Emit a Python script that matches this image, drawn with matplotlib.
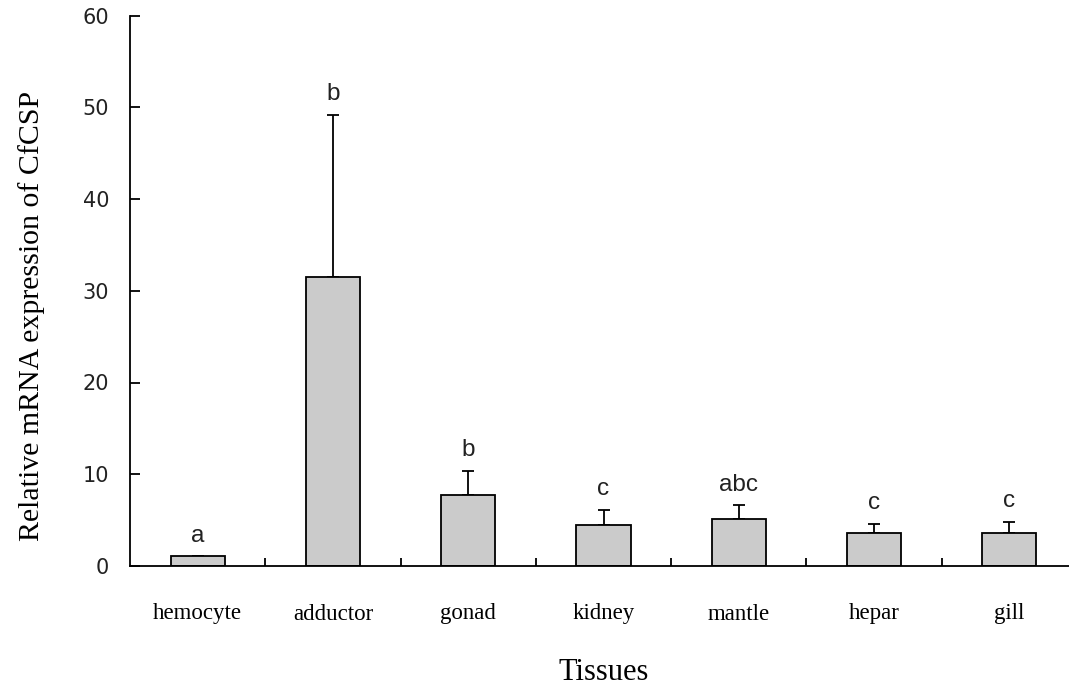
import numpy as np
import matplotlib.pyplot as plt

tissues = ["hemocyte", "adductor", "gonad", "kidney", "mantle", "hepar", "gill"]
expr = [1.05, 31.5, 7.7, 4.45, 5.15, 3.55, 3.55]
err = [0.0, 17.7, 2.7, 1.7, 1.45, 1.07, 1.3]
letters = ["a", "b", "b", "c", "abc", "c", "c"]

fig = plt.figure(figsize=(10.69, 6.88), dpi=100)
ax = fig.add_axes([130/1069, 122/688, 947/1069, 550.5/688])

x = np.arange(len(tissues))
ax.bar(x, expr, width=0.4, color="#cbcbcb", edgecolor="black", linewidth=1.3,
       zorder=2)
ax.errorbar(x, expr, yerr=[np.zeros(len(err)), err], fmt="none", ecolor="black",
            elinewidth=1.3, capsize=4, capthick=1.3, zorder=1)

for xi, top, lab in zip(x, np.array(expr) + np.array(err), letters):
    ax.annotate(lab, (xi, top), xytext=(0, 7), textcoords="offset points",
                ha="center", va="bottom", fontsize=17.5,
                family="Liberation Sans", color="#222222")

ax.set_xlim(-0.5, 6.5)
ax.set_ylim(0, 60)
ax.set_yticks(np.arange(0, 61, 10))
ax.spines["top"].set_visible(False)
ax.spines["right"].set_visible(False)
ax.spines["left"].set_linewidth(1.3)
ax.spines["bottom"].set_linewidth(1.3)

ax.set_xticks(x)
ax.set_xticklabels(tissues, family="Liberation Serif", fontsize=16.5)
ax.tick_params(axis="x", which="major", length=0, pad=27)
ax.set_xticks(np.arange(0.5, 6, 1), minor=True)
ax.tick_params(axis="x", which="minor", direction="in", length=6, width=1.3)
ax.tick_params(axis="y", direction="in", length=7, width=1.3, pad=15,
               labelsize=15)
for t in ax.get_yticklabels():
    t.set_color("#222222")

ax.set_xlabel("Tissues", family="Liberation Serif", fontsize=22, labelpad=24)
ax.set_ylabel("Relative mRNA expression of CfCSP", family="Liberation Serif",
              fontsize=21.5)
ax.yaxis.set_label_coords(-0.09, 0.454)

plt.savefig("out.png", dpi=100)
